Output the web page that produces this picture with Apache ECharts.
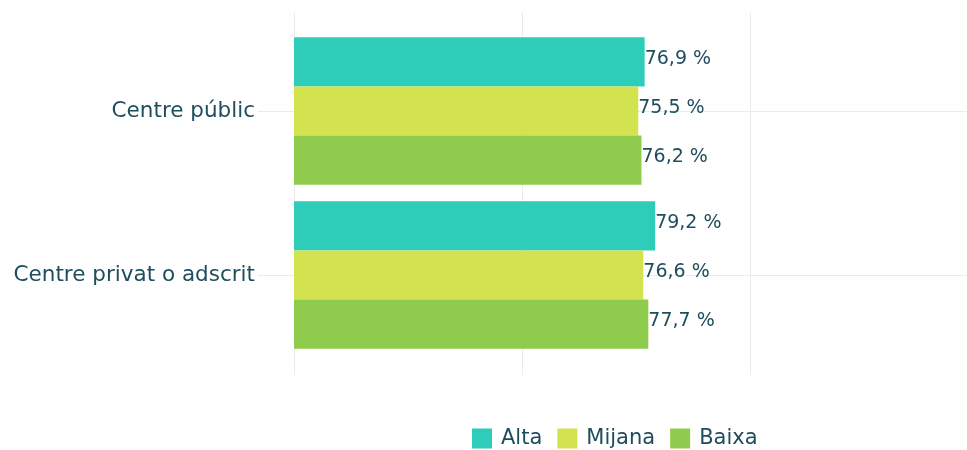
<!DOCTYPE html>
<html>
<head>
  <meta charset="UTF-8">
  <script src="https://cdn.jsdelivr.net/npm/echarts@6/dist/echarts.min.js"></script>
  <style>
    html, body { margin: 0; padding: 0; background: #fff; overflow: hidden; }
    #chart { width: 978px; height: 450px; }
  </style>
</head>
<body>
<div id="chart"></div>
<script type="text/javascript">
  // dades
  var categories = ['Centre públic', 'Centre privat o adscrit'];
  var seriesNames = ['Alta', 'Mijana', 'Baixa'];
  var alta = [76.9, 79.2];
  var mijana = [75.5, 76.6];
  var baixa = [76.2, 77.7];
  var colors = ['#2ecdb9', '#d3e34f', '#8fcb4c'];

  var font = 'DejaVu Sans';
  var txtColor = '#1f4d5d';
  var gridColor = '#ebebeb';

  function fmt(p) {
    return p.value.toFixed(1).replace('.', ',') + ' %';
  }

  function barSeries(name, data, i) {
    return {
      name: name,
      type: 'bar',
      xAxisIndex: 1,
      yAxisIndex: 1,
      data: data,
      barGap: '0%',
      barCategoryGap: '10%',
      itemStyle: {color: colors[i]},
      label: {
        show: true,
        position: 'right',
        distance: 0,
        offset: [0, -3],
        formatter: fmt,
        fontFamily: font,
        fontSize: 19,
        color: txtColor
      }
    };
  }

  var chart = echarts.init(document.getElementById('chart'));
  var option = {
    animation: false,
    textStyle: {fontFamily: font},
    grid: [
      // vertical grid lines
      {left: 294, right: 0, top: 12, bottom: 75},
      // bars
      {left: 294, right: 0, top: 29, bottom: 93},
      // horizontal lines at category centres
      {left: 258, right: 0, top: 111, bottom: 175}
    ],
    xAxis: [
      {gridIndex: 0, type: 'value', min: 0, max: 150, interval: 50,
       axisLine: {show: false}, axisTick: {show: false}, axisLabel: {show: false},
       splitLine: {show: true, lineStyle: {color: gridColor, width: 1}}},
      {gridIndex: 1, type: 'value', min: 0, max: 150, interval: 50,
       axisLine: {show: false}, axisTick: {show: false}, axisLabel: {show: false},
       splitLine: {show: false}},
      {gridIndex: 2, type: 'value', show: false}
    ],
    yAxis: [
      {gridIndex: 0, type: 'value', show: false},
      {gridIndex: 1, type: 'category', data: categories, inverse: true,
       axisLine: {show: false}, axisTick: {show: false},
       axisLabel: {margin: 39, fontSize: 21.5, color: txtColor, fontFamily: font},
       splitLine: {show: false}},
      {gridIndex: 2, type: 'value', min: 0, max: 1, interval: 1,
       axisLine: {show: false}, axisTick: {show: false}, axisLabel: {show: false},
       splitLine: {show: true, lineStyle: {color: gridColor, width: 1}}}
    ],
    legend: {
      data: seriesNames,
      left: 472,
      top: 428,
      padding: 0,
      icon: 'rect',
      itemWidth: 20,
      itemHeight: 20,
      itemGap: 15,
      textStyle: {fontSize: 21, color: txtColor, fontFamily: font, padding: [0, 0, 0, 4]}
    },
    series: [
      barSeries(seriesNames[0], alta, 0),
      barSeries(seriesNames[1], mijana, 1),
      barSeries(seriesNames[2], baixa, 2)
    ]
  };
  chart.setOption(option);
</script>
</body>
</html>
